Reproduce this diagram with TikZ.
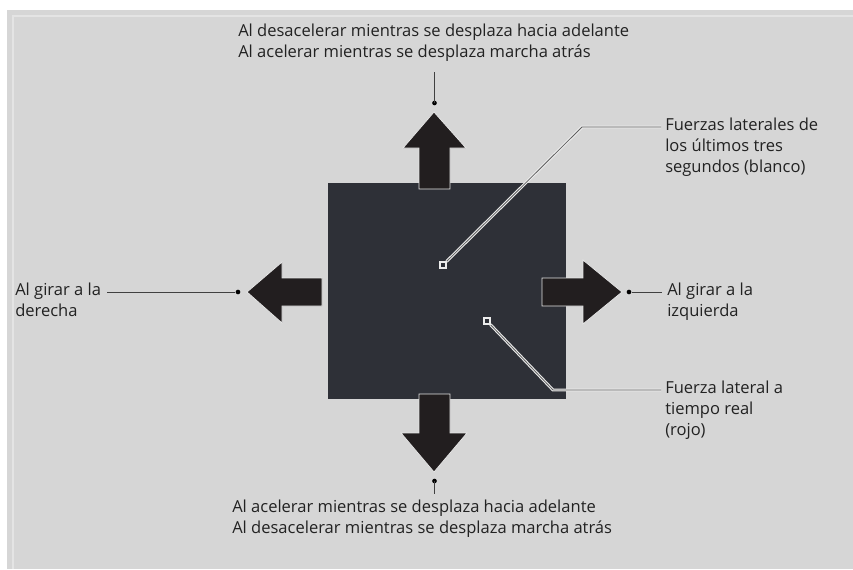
\documentclass[tikz,border=0pt]{standalone}
\usepackage{fontspec}
\setmainfont{Open Sans}
\definecolor{panelgray}{HTML}{D6D6D6}
\definecolor{boxdark}{HTML}{2E3037}
\definecolor{arrowdark}{HTML}{221E1F}
\definecolor{txtdark}{HTML}{222222}
\tikzset{
  lbl/.style={inner sep=0pt, align=left, text=txtdark, font=\fontsize{12.4}{15.5}\selectfont},
  dot/.style={circle, fill=black, inner sep=0pt, minimum size=3.5pt},
  marker/.style={rectangle, draw=white!85!gray, line width=0.8pt, fill=boxdark, inner sep=0pt, minimum size=4.5pt},
  leader/.style={draw=gray!50!black, line width=0.6pt},
  forceline/.style={draw=gray!75!black, line width=0.6pt, preaction={draw=white!85!gray, line width=2.2pt}},
  blockarrow/.style={fill=arrowdark, draw=white!80!gray, line width=0.6pt}
}
\begin{document}
\begin{tikzpicture}[x=0.75pt, y=-0.75pt]
            \useasboundingbox (0,0) rectangle (853,569);
            \fill[white] (0,0) rectangle (853,569);
            \fill[panelgray] (7,10) rectangle (853,569);
            \draw[white!35!panelgray, line width=0.8pt] (13,569) |- (853,16);

            \fill[boxdark] (328,183) rectangle (566,399);

            \draw[blockarrow] (419,189) -- (419,148) -- (403,148) -- (434,112) -- (466,148) -- (450,148) -- (450,189) -- cycle;
            \draw[blockarrow] (419,394) -- (419,433) -- (401,433) -- (434,472) -- (467,433) -- (450,433) -- (450,394) -- cycle;
            \draw[blockarrow] (322,278) -- (282,278) -- (282,262) -- (247,292) -- (282,323) -- (282,306) -- (322,306) -- cycle;
            \draw[blockarrow] (542,278) -- (583,278) -- (583,260) -- (622,292) -- (583,324) -- (583,306) -- (542,306) -- cycle;

            \node[dot] (dotUp) at (434.5,103) {};
            \node[dot] (dotDown) at (434.5,481) {};
            \node[dot] (dotLeft) at (238,292) {};
            \node[dot] (dotRight) at (629,292) {};

            \node[lbl, anchor=north west] (lblUp) at (238,24) {Al desacelerar mientras se desplaza hacia adelante\\Al acelerar mientras se desplaza marcha atrás};
            \node[lbl, anchor=north west] (lblDown) at (232,500) {Al acelerar mientras se desplaza hacia adelante\\Al desacelerar mientras se desplaza marcha atrás};
            \node[lbl, anchor=north west] (lblLeft) at (15,283) {Al girar a la\\derecha};
            \node[lbl, anchor=north west] (lblRight) at (667,283) {Al girar a la\\izquierda};
            \node[lbl, anchor=north west] (lblPast) at (665,118) {Fuerzas laterales de\\los últimos tres\\segundos (blanco)};
            \node[lbl, anchor=north west] (lblLive) at (665,381) {Fuerza lateral a\\tiempo real\\(rojo)};

            \coordinate (endUp) at (434.5,72);
            \coordinate (endDown) at (434.5,494);
            \draw[leader, line width=0.8pt] (dotUp.center) -- (endUp);
            \draw[leader, line width=0.8pt] (dotDown.center) -- (endDown);
            \draw[leader] (dotLeft) -- ([xshift=4pt]dotLeft -| lblLeft.east);
            \draw[leader] (dotRight) -- ([xshift=-4pt]dotRight -| lblRight.west);

            \coordinate (bendPast) at (582,127);
            \coordinate (bendLive) at (553,390);
            \node[marker] (markPast) at (443,265) {};
            \node[marker] (markLive) at (487,321) {};
            \draw[forceline] (markPast) -- (bendPast) -- ([xshift=-3pt]bendPast -| lblPast.west);
            \draw[forceline] (markLive) -- (bendLive) -- ([xshift=-3pt]bendLive -| lblLive.west);
            \node[marker] at (markPast) {};
            \node[marker] at (markLive) {};
        \end{tikzpicture}
\end{document}
